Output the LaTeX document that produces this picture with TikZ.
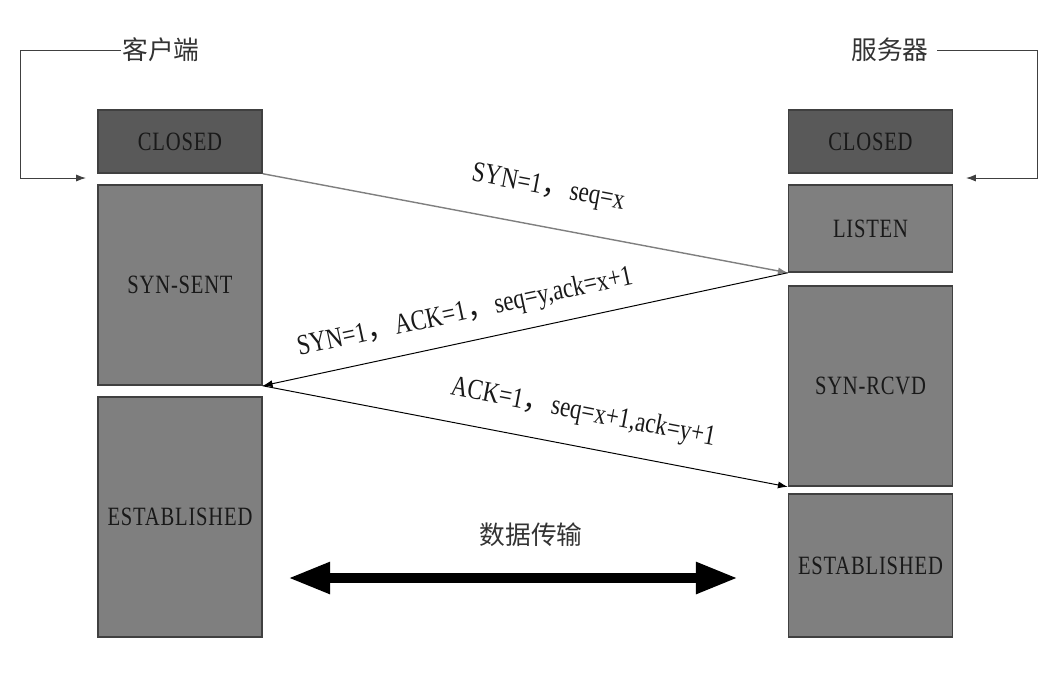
\documentclass[tikz,border=0pt]{standalone}
\usepackage{fontspec}
\usetikzlibrary{arrows.meta,positioning}
\newfontfamily\boxfont{Liberation Serif}[FakeStretch=0.78,LetterSpace=3]
\newfontfamily\lblfont{Liberation Serif}[FakeStretch=0.8]
\newfontfamily\cjk{Noto Sans CJK SC}
\definecolor{stDark}{HTML}{595959}
\definecolor{stMid}{HTML}{7F7F7F}
\definecolor{stEdge}{HTML}{404040}
\newcommand{\zc}{{\cjk ，}}

\begin{document}
\begin{tikzpicture}[x=0.025cm, y=-0.025cm,
  state/.style={draw=stEdge, line width=1pt, fill=stMid, minimum width=4.1cm, inner sep=0pt, text=black!90, font=\boxfont\fontsize{18.8}{20}\selectfont},
  closedst/.style={state, fill=stDark, minimum height=1.575cm},
  msg/.style={-{Latex[length=7pt,width=5pt]}, line width=0.7pt},
  lbl/.style={sloped, inner sep=0pt, text=black!90, font=\lblfont\fontsize{20.5}{22}\selectfont},
  side/.style={inner sep=1pt, text=black!80, font=\cjk\fontsize{18.3}{20}\selectfont},
  loopback/.style={draw=stEdge, line width=0.7pt, -{Latex[length=7pt,width=5pt]}},
  bulk/.style={{Triangle[length=30pt,width=21pt]}-{Triangle[length=30pt,width=21pt]}, line width=7pt}]
\useasboundingbox (0,0) rectangle (1056,680);

% client side
\node[side] (client) at (161,50) {客户端};
\node[closedst] (cc) at (180,141.5) {CLOSED};
\node[state, minimum height=5cm, below=0.265cm of cc] (synsent) {SYN-SENT};
\node[state, minimum height=6cm, below=0.265cm of synsent] (estc) {ESTABLISHED};

% server side
\node[side] (server) at (890,50) {服务器};
\node[closedst] (sc) at (870.5,141.5) {CLOSED};
\node[state, minimum height=2.175cm, below=0.265cm of sc] (listen) {LISTEN};
\node[state, minimum height=5cm, below=0.315cm of listen] (synrcvd) {SYN-RCVD};
\node[state, minimum height=3.575cm, below=0.165cm of synrcvd] (ests) {ESTABLISHED};

\coordinate (cin) at (86,178);
\coordinate (sin) at (966,178);
\draw[loopback] (client.west) -- ++(-100,0) |- (cin);
\draw[loopback] ([xshift=5pt]server.east) -- ++(100,0) |- (sin);

% handshake
\draw[msg, draw=stMid, line width=1pt] (cc.south east) -- node[lbl, pos=0.53, above=0.625cm] {SYN=1\zc seq=x} (listen.south west);
\draw[msg] (listen.south west) -- node[lbl, pos=0.603, above=0.375cm] {SYN=1\zc ACK=1\zc seq=y,ack=x+1} (synsent.south east);
\draw[msg] (synsent.south east) -- node[lbl, pos=0.598, above=0.5cm] {ACK=1\zc seq=x+1,ack=y+1} (synrcvd.south west);

% data transfer
\node[side] (xfer) at (531,535) {数据传输};
\coordinate (dl) at (288,578);
\coordinate (dr) at (738,578);
\draw[bulk] (dl) -- (dr);
\end{tikzpicture}
\end{document}
